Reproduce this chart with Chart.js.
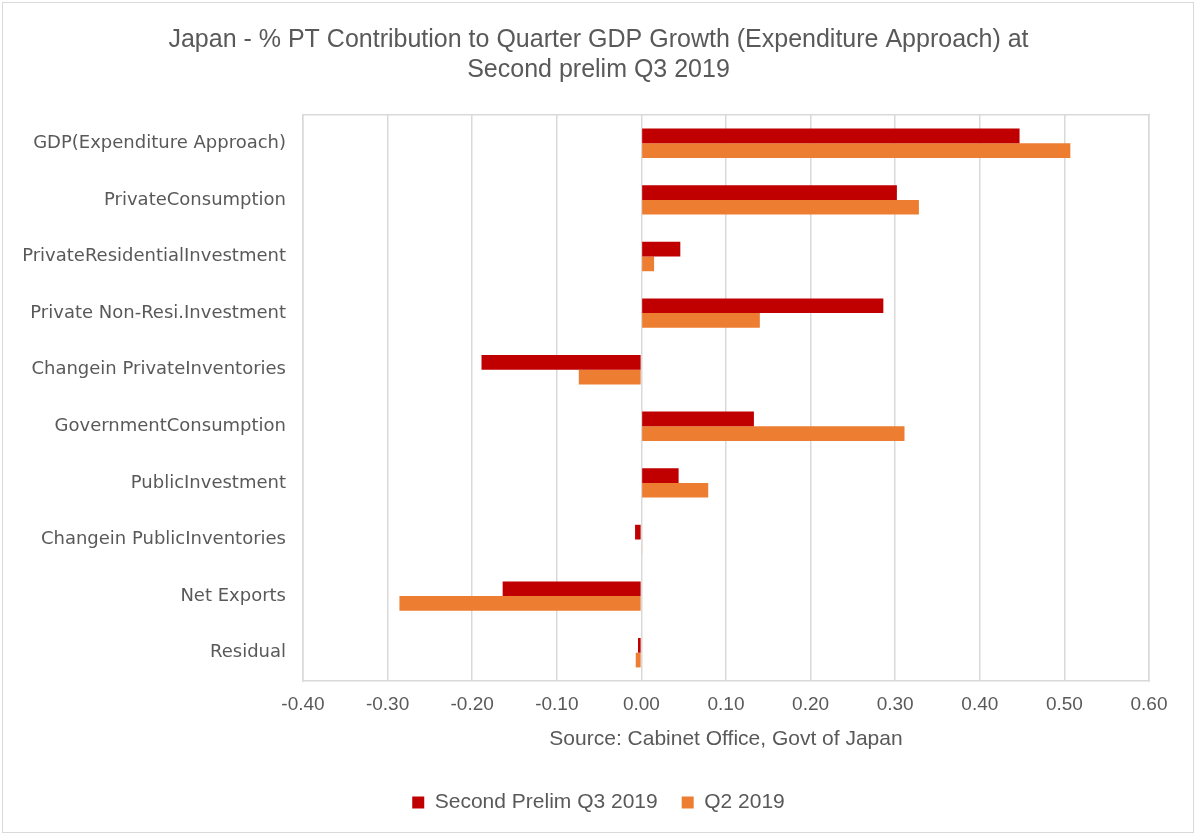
<!DOCTYPE html>
<html>
<head>
<meta charset="utf-8">
<title>Japan GDP contributions</title>
<script src="https://cdn.jsdelivr.net/npm/chart.js@4/dist/chart.umd.min.js"></script>
<style>
  html, body { margin: 0; padding: 0; background: #ffffff; }
  #wrap { position: relative; width: 1197px; height: 836px; }
  #frame { position: absolute; left: 2px; top: 2px; width: 1192px; height: 831px; border: 1px solid #d9d9d9; box-sizing: border-box; pointer-events: none; }
  canvas { display: block; }
</style>
</head>
<body>
<div id="wrap">
  <canvas id="chart" width="1197" height="836"></canvas>
  <div id="frame"></div>
</div>
<script>
// Contribution components (percentage points of quarterly GDP growth)
const categories = [
  "GDP(Expenditure Approach)",
  "PrivateConsumption",
  "PrivateResidentialInvestment",
  "Private Non-Resi.Investment",
  "Changein PrivateInventories",
  "GovernmentConsumption",
  "PublicInvestment",
  "Changein PublicInventories",
  "Net Exports",
  "Residual"
];

const secondPrelimQ3 = [0.447, 0.302, 0.046, 0.286, -0.189, 0.133, 0.044, -0.0075, -0.164, -0.004];
const q2_2019        = [0.507, 0.328, 0.015, 0.140, -0.074, 0.311, 0.079, 0.001, -0.286, -0.0067];

const seriesNames = ["Second Prelim Q3 2019", "Q2 2019"];
const xTicks = [-0.40, -0.30, -0.20, -0.10, 0.00, 0.10, 0.20, 0.30, 0.40, 0.50, 0.60];
const titleLines = ["Japan - % PT Contribution to Quarter GDP Growth (Expenditure Approach) at", "Second prelim Q3 2019"];
const sourceNote = "Source: Cabinet Office, Govt of Japan";

const textColor = "#595959";
const gridColor = "#d9d9d9";
const sans = "'Liberation Sans', Arial, sans-serif";

new Chart(document.getElementById("chart"), {
  type: "bar",
  data: {
    labels: categories,
    datasets: [
      { label: seriesNames[0], data: secondPrelimQ3, backgroundColor: "#C00000", borderWidth: 0 },
      { label: seriesNames[1], data: q2_2019, backgroundColor: "#ED7D31", borderWidth: 0 }
    ]
  },
  options: {
    indexAxis: "y",
    responsive: false,
    animation: false,
    devicePixelRatio: 1,
    layout: { padding: { left: 0, right: 0, top: 0, bottom: 13 } },
    datasets: { bar: { categoryPercentage: 0.52, barPercentage: 1.0 } },
    scales: {
      x: {
        min: -0.4,
        max: 0.6,
        afterBuildTicks: (scale) => { scale.ticks = xTicks.map(v => ({ value: v })); },
        afterFit: (scale) => { scale.height = 87; },
        grid: { color: gridColor, lineWidth: 1.5, drawTicks: false },
        border: { display: true, color: gridColor, width: 1.5 },
        ticks: {
          color: textColor,
          font: { family: sans, size: 19 },
          padding: 12,
          maxRotation: 0,
          callback: (v) => Number(v).toFixed(2)
        },
        title: {
          display: true,
          text: sourceNote,
          color: textColor,
          font: { family: sans, size: 21 },
          padding: { top: 0, bottom: 16 }
        }
      },
      y: {
        afterFit: (scale) => { scale.width = 303; },
        grid: { display: false, drawTicks: false },
        border: { display: true, color: gridColor, width: 1.5 },
        ticks: {
          color: textColor,
          font: { family: "'DejaVu Sans', sans-serif", size: 18 },
          padding: 17
        }
      },
      x2: {
        // closes the plot frame along the top edge
        type: "linear",
        position: "top",
        min: -0.4,
        max: 0.6,
        display: true,
        afterFit: (scale) => { scale.height = 0; },
        grid: { display: false, drawTicks: false },
        border: { display: true, color: gridColor, width: 1.5 },
        ticks: { display: false }
      },
      y2: {
        // closes the plot frame along the right edge and keeps the right margin
        type: "category",
        position: "right",
        display: true,
        afterFit: (scale) => { scale.width = 48; },
        grid: { display: false, drawTicks: false },
        border: { display: true, color: gridColor, width: 1.5 },
        ticks: { display: false }
      }
    },
    plugins: {
      title: {
        display: true,
        text: titleLines,
        color: textColor,
        font: { family: sans, size: 25, weight: "normal", lineHeight: 1.2 },
        padding: { top: 25, bottom: 30 }
      },
      legend: {
        position: "bottom",
        labels: {
          color: textColor,
          font: { family: sans, size: 21 },
          boxWidth: 12,
          boxHeight: 12,
          padding: 24
        }
      },
      tooltip: { enabled: false }
    }
  }
});
</script>
</body>
</html>
